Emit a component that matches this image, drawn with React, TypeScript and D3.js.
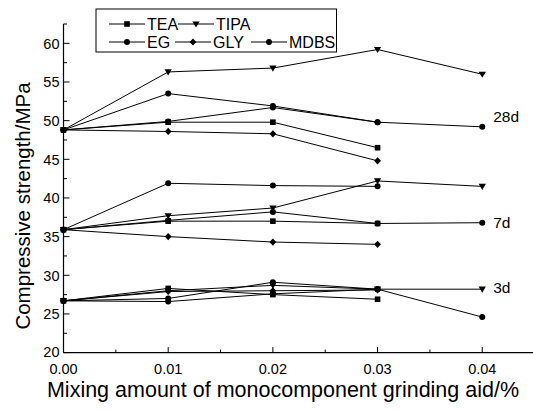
import { useMemo } from 'react';
import * as d3 from 'd3';

const W = 533;
const H = 410;

const dosage = [0, 0.01, 0.02, 0.03, 0.04];
const seriesNames = ['TEA', 'TIPA', 'EG', 'GLY', 'MDBS'];
const markerOf: Record<string, string> = {
  TEA: 'square',
  TIPA: 'triangle',
  EG: 'circle',
  GLY: 'diamond',
  MDBS: 'circle',
};

// compressive strength (MPa) per age, per grinding aid
const d3TEA = [26.7, 28.3, 27.5, 26.9];
const d3TIPA = [26.7, 28.0, 28.7, 28.2, 28.2];
const d3EG = [26.7, 27.0, 29.1, 28.2];
const d3GLY = [26.7, 27.9, 28.0, 28.1];
const d3MDBS = [26.7, 26.6, 27.6, 28.2, 24.6];

const d7TEA = [35.9, 37.0, 37.0, 36.7];
const d7TIPA = [35.9, 37.7, 38.7, 42.2, 41.5];
const d7EG = [35.9, 41.9, 41.6, 41.5];
const d7GLY = [35.9, 35.0, 34.3, 34.0];
const d7MDBS = [35.9, 37.1, 38.2, 36.7, 36.8];

const d28TEA = [48.8, 49.8, 49.8, 46.5];
const d28TIPA = [48.8, 56.3, 56.8, 59.2, 56.0];
const d28EG = [48.8, 53.5, 51.9, 49.8];
const d28GLY = [48.8, 48.6, 48.3, 44.8];
const d28MDBS = [48.8, 49.9, 51.7, 49.8, 49.2];

const ages = ['3d', '7d', '28d'];
const ageLabelValue = [28.4, 36.8, 50.6];
const ageData: number[][][] = [
  [d3TEA, d3TIPA, d3EG, d3GLY, d3MDBS],
  [d7TEA, d7TIPA, d7EG, d7GLY, d7MDBS],
  [d28TEA, d28TIPA, d28EG, d28GLY, d28MDBS],
];

const yTicks = [20, 25, 30, 35, 40, 45, 50, 55, 60];
const xTicks = [0, 0.01, 0.02, 0.03, 0.04];

const FONT = '"Liberation Sans", Arial, sans-serif';

function Marker({ kind, cx, cy }: { kind: string; cx: number; cy: number }) {
  if (kind === 'square') {
    return <rect x={cx - 2.8} y={cy - 2.8} width={5.6} height={5.6} fill="#000" />;
  }
  if (kind === 'triangle') {
    return <path d={`M${cx - 3.6},${cy - 2.6}L${cx + 3.6},${cy - 2.6}L${cx},${cy + 3.6}Z`} fill="#000" />;
  }
  if (kind === 'diamond') {
    return <path d={`M${cx},${cy - 3.6}L${cx + 3.4},${cy}L${cx},${cy + 3.6}L${cx - 3.4},${cy}Z`} fill="#000" />;
  }
  return <circle cx={cx} cy={cy} r={3} fill="#000" />;
}

export default function App() {
  const x = useMemo(() => d3.scaleLinear().domain([0, 0.045]).range([63.5, 534.6]), []);
  const y = useMemo(() => d3.scaleLinear().domain([20, 62.5]).range([352.6, 24]), []);
  const line = d3
    .line<number>()
    .x((_, i) => x(dosage[i]))
    .y((v) => y(v));

  const yMinor = d3.range(22.5, 62.6, 5);
  const xMinor = [0.005, 0.015, 0.025, 0.035];

  const legendRows = [
    [
      { name: 'TEA', x0: 109 },
      { name: 'TIPA', x0: 178 },
    ],
    [
      { name: 'EG', x0: 109 },
      { name: 'GLY', x0: 175 },
      { name: 'MDBS', x0: 251 },
    ],
  ];
  const legendY = [24, 42];

  return (
    <svg
      width={W}
      height={H}
      style={{ position: 'absolute', left: 0, top: 0, background: '#fff' }}
      fontFamily={FONT}
    >
      <rect width={W} height={H} fill="#fff" />

      {/* axes */}
      <line x1={x(0)} x2={x(0)} y1={y(62.5)} y2={y(20)} stroke="#000" strokeWidth={1.2} />
      <line x1={x(0)} x2={x(0.045)} y1={y(20)} y2={y(20)} stroke="#000" strokeWidth={1.2} />
      {yTicks.map((t) => (
        <g key={`yt${t}`}>
          <line x1={x(0)} x2={x(0) + 6} y1={y(t)} y2={y(t)} stroke="#000" />
          <text x={x(0) - 4} y={y(t) + (t === 20 ? -1 : 0)} dy="0.38em" textAnchor="end" fontSize={14.5}>
            {t}
          </text>
        </g>
      ))}
      {yMinor.map((t) => (
        <line key={`ym${t}`} x1={x(0)} x2={x(0) + 3.5} y1={y(t)} y2={y(t)} stroke="#000" />
      ))}
      {xTicks.map((t) => (
        <g key={`xt${t}`}>
          <line x1={x(t)} x2={x(t)} y1={y(20)} y2={y(20) - 5.5} stroke="#000" />
          <text x={x(t)} y={374} textAnchor="middle" fontSize={14.5}>
            {t.toFixed(2)}
          </text>
        </g>
      ))}
      {xMinor.map((t) => (
        <line key={`xm${t}`} x1={x(t)} x2={x(t)} y1={y(20)} y2={y(20) - 3} stroke="#000" />
      ))}

      {/* series */}
      {ageData.map((group, gi) =>
        group.map((vals, si) => (
          <g key={`s${gi}-${si}`}>
            <path d={line(vals) ?? ''} fill="none" stroke="#000" strokeWidth={1} />
            {vals.map((v, i) => (
              <Marker key={i} kind={markerOf[seriesNames[si]]} cx={x(dosage[i])} cy={y(v)} />
            ))}
          </g>
        )),
      )}

      {/* age labels */}
      {ages.map((a, i) => (
        <text key={a} x={x(0.04) + 11} y={y(ageLabelValue[i])} dy="0.36em" fontSize={15.5}>
          {a}
        </text>
      ))}

      {/* legend */}
      <rect x={96} y={9} width={240.5} height={43} fill="#fff" stroke="#000" strokeWidth={1} />
      {legendRows.map((row, ri) =>
        row.map((item) => (
          <g key={item.name}>
            <line x1={item.x0} x2={item.x0 + 36} y1={legendY[ri]} y2={legendY[ri]} stroke="#000" />
            <Marker kind={markerOf[item.name]} cx={item.x0 + 18} cy={legendY[ri]} />
            <text x={item.x0 + 38} y={legendY[ri]} dy="0.36em" fontSize={16}>
              {item.name}
            </text>
          </g>
        )),
      )}

      {/* axis titles */}
      <text
        transform={`translate(${23},${206}) rotate(-90)`}
        textAnchor="middle"
        dy="0.36em"
        fontSize={20.5}
      >
        Compressive strength/MPa
      </text>
      <text x={283} y={389} dy="0.36em" textAnchor="middle" fontSize={21.5}>
        Mixing amount of monocomponent grinding aid/%
      </text>
    </svg>
  );
}
